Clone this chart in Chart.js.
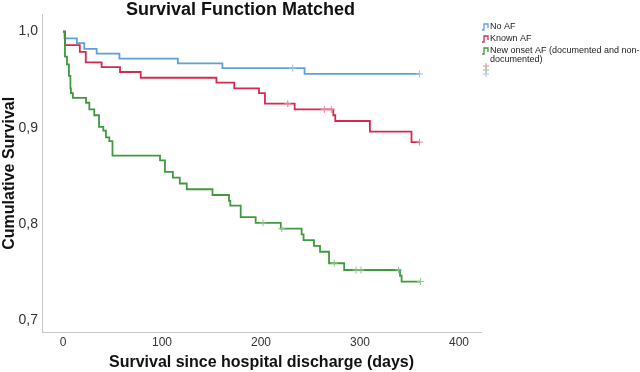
<!DOCTYPE html>
<html>
<head>
<meta charset="utf-8">
<script src="https://cdn.jsdelivr.net/npm/chart.js@4"></script>
<style>
  html, body { margin: 0; padding: 0; background: #fff; }
  #wrap { width: 640px; height: 372px; }
</style>
</head>
<body>
<div id="wrap"><canvas id="chart1"></canvas></div>
<script>
// Kaplan-Meier steps: time (days) and survival after the drop
const noAfDays  = [0, 1.5, 14, 21.5, 34, 57, 116, 161, 244, 360];
const noAfSurv  = [1.0, 0.993, 0.988, 0.982, 0.977, 0.972, 0.967, 0.962, 0.956, 0.956];
const noAfCens  = [232, 360];

const knownDays = [0, 2, 17, 23, 39, 57.6, 78.5, 155, 173, 198, 204, 234, 273, 275, 310, 352, 360];
const knownSurv = [1.0, 0.986, 0.979, 0.968, 0.963, 0.958, 0.952, 0.947, 0.941, 0.936, 0.925, 0.919, 0.913, 0.907, 0.896, 0.885, 0.885];
const knownCens = [227, 264, 271, 360];

const newDays = [0, 2, 4, 6, 7.5, 8, 10, 23.3, 26.6, 31.6, 36.4, 40.7, 43.4, 46.8, 50, 98, 103, 111, 118, 125,
                 151, 167.7, 169, 179.5, 194.6, 220, 241, 243, 253.5, 259.6, 268.7, 284, 340.4, 342, 361];
const newSurv = [1.0, 0.974, 0.966, 0.954, 0.941, 0.936, 0.931, 0.926, 0.919, 0.913, 0.901, 0.897, 0.890, 0.886, 0.871, 0.866, 0.854, 0.848, 0.842, 0.836,
                 0.830, 0.824, 0.819, 0.807, 0.801, 0.795, 0.789, 0.783, 0.777, 0.771, 0.759, 0.752, 0.746, 0.740, 0.740];
const newCens = [202, 221, 274, 296, 301, 339, 361];

const xTicks = [0, 100, 200, 300, 400];
const yTicks = [0.7, 0.8, 0.9, 1.0];

const seriesLabels = ['No AF', 'Known AF', 'New onset AF (documented and non-documented)'];
const seriesColors = ['#5f9fe0', '#d42a50', '#3f9a3f'];
const censColors = ['#9cc3ec', '#e58aa0', '#8cc68c'];

const FONT = 'Arial, "Liberation Sans", sans-serif';

function pts(days, surv) {
  return days.map((d, i) => ({ x: d, y: surv[i] }));
}
// survival level at time t (for placing censor ticks on the curve)
function levelAt(days, surv, t) {
  let s = surv[0];
  for (let i = 0; i < days.length; i++) if (days[i] <= t) s = surv[i];
  return s;
}
function censPts(days, surv, cens) {
  return cens.map(t => ({ x: t, y: levelAt(days, surv, t) }));
}

const curves = [[noAfDays, noAfSurv, noAfCens], [knownDays, knownSurv, knownCens], [newDays, newSurv, newCens]];

const datasets = [];
curves.forEach((c, i) => {
  datasets.push({
    label: seriesLabels[i],
    data: pts(c[0], c[1]),
    stepped: true,
    borderColor: seriesColors[i],
    borderWidth: 1.8,
    pointRadius: 0,
    fill: false,
    order: 3 - i
  });
});
curves.forEach((c, i) => {
  datasets.push({
    label: seriesLabels[i] + ' censored',
    data: censPts(c[0], c[1], c[2]),
    showLine: false,
    pointStyle: 'cross',
    pointRadius: 3.5,
    borderWidth: 1,
    borderColor: censColors[i],
    backgroundColor: censColors[i],
    order: 0
  });
});

// legend on the right, SPSS style with little step icons
const kmLegend = {
  id: 'kmLegend',
  afterDraw(chart) {
    const ctx = chart.ctx;
    ctx.save();
    ctx.font = '9px ' + FONT;
    ctx.textBaseline = 'middle';
    ctx.fillStyle = '#222';
    const x = 482, rows = [27, 39, 51];
    const lines = [['No AF'], ['Known AF'], ['New onset AF (documented and non-', 'documented)']];
    rows.forEach((y, i) => {
      ctx.strokeStyle = seriesColors[i];
      ctx.lineWidth = 1.3;
      ctx.beginPath();
      ctx.moveTo(x, y + 3);
      ctx.lineTo(x + 2, y + 3);
      ctx.lineTo(x + 2, y - 3);
      ctx.lineTo(x + 6, y - 3);
      ctx.lineTo(x + 6, y + 1);
      ctx.stroke();
      lines[i].forEach((t, k) => ctx.fillText(t, x + 8, y + k * 9));
    });
    [66, 70, 74].forEach((y, i) => {
      ctx.strokeStyle = censColors[(i + 1) % 3];
      ctx.lineWidth = 1;
      ctx.beginPath();
      ctx.moveTo(x + 1, y); ctx.lineTo(x + 7, y);
      ctx.moveTo(x + 4, y - 3); ctx.lineTo(x + 4, y + 3);
      ctx.stroke();
    });
    ctx.restore();
  }
};

const ctx = document.getElementById('chart1').getContext('2d');
const chart1 = new Chart(ctx, {
  type: 'line',
  data: { datasets: datasets },
  options: {
    responsive: true,
    maintainAspectRatio: false,
    animation: false,
    layout: { padding: { right: 159, left: 0, top: 0, bottom: 0 } },
    scales: {
      x: {
        type: 'linear',
        min: -21.2,
        max: 422.2,
        grid: { display: false, drawTicks: false },
        border: { display: true, color: '#c8c8c8', width: 1 },
        afterBuildTicks: (scale) => { scale.ticks = xTicks.map(v => ({ value: v })); },
        afterFit: (scale) => { scale.height = 40; },
        ticks: { color: '#333', font: { family: FONT, size: 12 }, padding: 3, maxRotation: 0 },
        title: {
          display: true,
          text: 'Survival since hospital discharge (days)',
          color: '#111',
          font: { family: FONT, size: 16, weight: 'bold' },
          padding: { top: 0, bottom: 0 }
        }
      },
      y: {
        type: 'linear',
        min: 0.6875,
        max: 1.0177,
        grid: { display: false, drawTicks: false },
        border: { display: true, color: '#c8c8c8', width: 1 },
        afterBuildTicks: (scale) => { scale.ticks = yTicks.map(v => ({ value: v })); },
        afterFit: (scale) => { scale.width = 42; },
        ticks: {
          color: '#333',
          font: { family: FONT, size: 14 },
          padding: 4,
          callback: (v) => v.toFixed(1).replace('.', ',')
        },
        title: {
          display: true,
          text: 'Cumulative Survival',
          color: '#111',
          font: { family: FONT, size: 16, weight: 'bold' },
          padding: { top: 0, bottom: 0 }
        }
      }
    },
    plugins: {
      legend: { display: false },
      tooltip: { enabled: false },
      title: {
        display: true,
        text: 'Survival Function Matched',
        color: '#111',
        font: { family: FONT, size: 18, weight: 'bold' },
        padding: { top: -1, bottom: -6 }
      }
    }
  },
  plugins: [kmLegend]
});
</script>
</body>
</html>
